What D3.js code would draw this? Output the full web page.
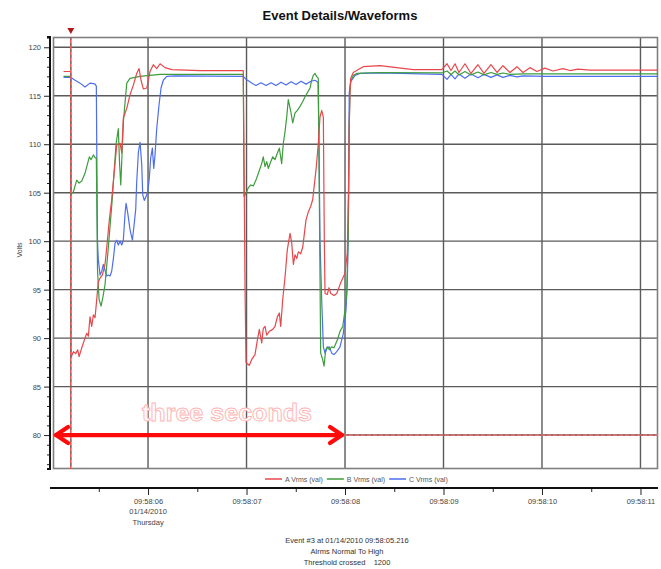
<!DOCTYPE html>
<html>
<head>
<meta charset="utf-8">
<script src="https://cdn.jsdelivr.net/npm/d3@7"></script>
<style>
  body { margin: 0; background: #fff; }
  svg { display: block; font-family: Arial, "Liberation Sans", sans-serif; }
</style>
</head>
<body>
<svg id="chart" width="661" height="569"></svg>
<script>
// RMS voltage per phase, [seconds after 09:58:00, volts]
const phaseA = [
  [5.142, 117.5], [5.214, 117.5], [5.218, 88.0], [5.242, 88.6], [5.266, 88.4], [5.286, 88.8],
  [5.300, 88.1], [5.327, 89.0], [5.360, 90.0], [5.378, 90.5], [5.394, 90.2], [5.411, 92.2],
  [5.428, 91.2], [5.445, 92.4], [5.462, 92.1], [5.479, 94.0], [5.495, 95.8], [5.513, 96.2],
  [5.536, 96.5], [5.563, 97.6], [5.581, 99.4], [5.607, 102.2], [5.631, 104.3], [5.682, 109.9],
  [5.716, 110.1], [5.733, 109.1], [5.749, 112.7], [5.784, 113.7], [5.817, 115.1], [5.851, 116.1],
  [5.885, 117.3], [5.909, 117.8], [5.929, 116.6], [5.952, 115.7], [5.987, 115.8], [6.020, 117.5],
  [6.054, 118.2], [6.088, 117.8], [6.122, 118.3], [6.173, 117.9], [6.241, 117.7], [6.528, 117.6],
  [6.967, 117.6], [6.985, 95.0], [6.995, 87.5], [7.002, 87.4], [7.028, 87.2], [7.053, 87.8],
  [7.086, 88.3], [7.110, 89.8], [7.130, 90.9], [7.154, 89.5], [7.170, 91.0], [7.188, 91.2],
  [7.205, 90.3], [7.231, 90.7], [7.266, 90.9], [7.289, 91.2], [7.313, 92.2], [7.333, 92.6],
  [7.347, 91.2], [7.367, 93.9], [7.391, 96.3], [7.414, 99.1], [7.442, 100.8], [7.459, 99.8],
  [7.476, 97.6], [7.492, 98.6], [7.510, 98.2], [7.526, 98.9], [7.550, 98.7], [7.571, 99.4],
  [7.584, 100.5], [7.604, 102.2], [7.627, 103.0], [7.652, 103.6], [7.672, 104.3], [7.706, 107.4],
  [7.729, 110.1], [7.746, 112.8], [7.763, 113.5], [7.780, 112.8], [7.790, 100.0], [7.797, 94.6],
  [7.820, 94.5], [7.838, 95.2], [7.855, 94.6], [7.888, 94.4], [7.916, 94.6], [7.956, 95.7],
  [8.000, 96.7], [8.023, 98.8], [8.035, 105.0], [8.043, 112.0], [8.051, 115.5], [8.058, 116.8],
  [8.084, 117.4], [8.135, 117.7], [8.186, 118.0], [8.355, 118.1], [8.693, 117.7], [8.982, 117.7],
  [9.036, 118.3], [9.076, 117.6], [9.117, 118.3], [9.157, 117.4], [9.218, 118.3], [9.279, 117.3],
  [9.350, 118.2], [9.411, 117.3], [9.482, 118.2], [9.543, 117.4], [9.604, 118.1], [9.675, 117.4],
  [9.746, 118.0], [9.807, 117.4], [9.878, 117.9], [9.949, 117.5], [10.030, 117.85], [10.112, 117.55],
  [10.213, 117.8], [10.284, 117.6], [10.365, 117.75], [10.487, 117.65], [11.178, 117.65]
];

const phaseB = [
  [5.142, 117.0], [5.214, 117.0], [5.218, 104.8], [5.242, 105.1], [5.276, 106.3], [5.300, 106.0],
  [5.327, 106.2], [5.360, 107.0], [5.394, 108.3], [5.404, 108.7], [5.421, 108.4], [5.445, 108.9],
  [5.462, 108.6], [5.475, 108.6], [5.487, 97.0], [5.503, 94.0], [5.523, 93.3], [5.543, 94.3],
  [5.563, 95.5], [5.594, 99.0], [5.634, 104.0], [5.675, 110.0], [5.698, 111.6], [5.711, 108.0],
  [5.723, 105.8], [5.736, 109.0], [5.751, 112.5], [5.784, 116.3], [5.817, 116.8], [5.919, 117.0],
  [6.122, 117.2], [6.967, 117.2], [6.975, 104.6], [6.995, 104.95], [7.018, 105.5], [7.043, 105.8],
  [7.069, 105.7], [7.096, 106.3], [7.120, 107.0], [7.137, 107.5], [7.154, 108.0], [7.170, 108.7],
  [7.188, 107.7], [7.205, 108.2], [7.221, 107.5], [7.246, 108.2], [7.266, 108.7], [7.289, 108.4],
  [7.313, 109.1], [7.333, 109.6], [7.357, 108.0], [7.374, 110.1], [7.391, 111.3], [7.408, 112.8],
  [7.424, 114.6], [7.449, 113.4], [7.469, 112.2], [7.492, 113.2], [7.516, 113.5], [7.543, 113.9],
  [7.571, 114.4], [7.594, 114.9], [7.617, 115.3], [7.645, 115.8], [7.662, 116.6], [7.678, 117.1],
  [7.695, 117.3], [7.713, 116.97], [7.729, 116.8], [7.743, 100.0], [7.753, 88.45], [7.773, 87.8],
  [7.787, 87.1], [7.804, 88.8], [7.820, 89.1], [7.841, 88.8], [7.865, 89.1], [7.888, 89.0],
  [7.922, 89.8], [7.949, 90.7], [7.977, 91.2], [8.000, 92.9], [8.017, 94.6], [8.033, 100.8],
  [8.043, 112.0], [8.051, 115.5], [8.058, 116.5], [8.084, 117.1], [8.119, 117.3], [8.355, 117.4],
  [8.982, 117.35], [9.036, 117.55], [9.076, 117.2], [9.117, 117.55], [9.157, 117.15], [9.218, 117.5],
  [9.279, 117.15], [9.350, 117.45], [9.411, 117.15], [9.482, 117.4], [9.543, 117.2], [9.604, 117.35],
  [9.675, 117.2], [9.807, 117.25], [11.178, 117.25]
];

const phaseC = [
  [5.142, 116.9], [5.214, 116.9], [5.259, 116.6], [5.310, 116.3], [5.360, 115.9], [5.411, 116.3],
  [5.445, 116.25], [5.462, 116.2], [5.475, 116.0], [5.479, 110.0], [5.487, 100.0], [5.495, 98.1],
  [5.513, 96.5], [5.530, 96.9], [5.546, 97.6], [5.563, 97.0], [5.581, 96.4], [5.597, 96.5],
  [5.614, 96.4], [5.631, 96.9], [5.648, 98.2], [5.665, 99.8], [5.682, 100.1], [5.698, 99.6],
  [5.716, 100.0], [5.733, 99.6], [5.749, 100.1], [5.767, 102.9], [5.777, 103.9], [5.794, 102.9],
  [5.817, 101.2], [5.841, 100.1], [5.861, 101.9], [5.875, 103.3], [5.885, 106.1], [5.902, 109.2],
  [5.919, 110.2], [5.936, 107.9], [5.946, 104.8], [5.962, 104.2], [5.980, 104.6], [5.997, 105.1],
  [6.013, 106.5], [6.027, 108.6], [6.044, 109.6], [6.058, 107.5], [6.071, 108.9], [6.088, 111.6],
  [6.112, 114.1], [6.132, 115.8], [6.155, 116.6], [6.190, 117.0], [6.274, 117.05], [6.967, 117.0],
  [6.995, 116.7], [7.026, 116.5], [7.056, 116.3], [7.096, 116.05], [7.147, 116.35], [7.198, 116.05],
  [7.249, 116.35], [7.299, 116.05], [7.350, 116.4], [7.401, 116.1], [7.452, 116.45], [7.503, 116.15],
  [7.553, 116.5], [7.604, 116.2], [7.655, 116.5], [7.695, 116.6], [7.726, 116.4], [7.736, 110.0],
  [7.746, 100.1], [7.763, 94.0], [7.780, 89.1], [7.797, 88.45], [7.820, 89.0], [7.841, 89.1],
  [7.865, 88.45], [7.888, 88.3], [7.916, 88.6], [7.949, 89.1], [7.983, 90.5], [8.010, 92.9],
  [8.023, 95.7], [8.033, 100.8], [8.043, 115.3], [8.058, 116.45], [8.102, 117.1], [8.152, 117.3],
  [8.355, 117.35], [8.982, 117.2], [9.036, 116.7], [9.076, 117.2], [9.117, 116.75], [9.157, 117.25],
  [9.218, 116.8], [9.279, 117.25], [9.350, 116.85], [9.411, 117.2], [9.482, 116.9], [9.543, 117.15],
  [9.604, 116.9], [9.675, 117.1], [9.746, 116.95], [9.807, 117.05], [10.030, 117.0], [11.178, 117.0]
];

const seriesNames = ["A Vrms (val)", "B Vrms (val)", "C Vrms (val)"];
const seriesColors = ["#e8474c", "#3d9d3d", "#4e6ef2"];
const voltTicks = [80, 85, 90, 95, 100, 105, 110, 115, 120];
const secondTicks = [6, 7, 8, 9, 10, 11];
const halfSecondTicks = [5.5, 6.5, 7.5, 8.5, 9.5, 10.5];
const dateLines = ["01/14/2010", "Thursday"];
const footerLines = ["Event #3 at 01/14/2010 09:58:05.216", "Alrms Normal To High", "Threshold crossed    1200"];
const eventSecond = 5.216;
const thresholdVolts = 80;
const spanSeconds = [5.035, 8.0];
const spanLabel = "three seconds";
const chartTitle = "Event Details/Waveforms";
const yTitle = "Volts";

const svg = d3.select("#chart");
const base = new Date(2010, 0, 14, 9, 58, 0);
const toDate = s => new Date(base.getTime() + s * 1000);

const plot = { left: 53, right: 658, top: 37, bottom: 469 };
const x = d3.scaleTime().domain([toDate(5.0355), toDate(11.178)]).range([plot.left, plot.right]);
const y = d3.scaleLinear().domain([76.5, 121.06]).range([plot.bottom, plot.top]);

// title
svg.append("text").attr("x", 340).attr("y", 20).attr("text-anchor", "middle")
  .attr("font-size", 13).attr("font-weight", "bold").attr("fill", "#111").text(chartTitle);

// event marker triangle
const ex = x(toDate(eventSecond));
svg.append("path").attr("d", `M${ex - 3.5},28 L${ex + 3.5},28 L${ex},34 Z`).attr("fill", "#b01818");

// grid
const grid = svg.append("g");
grid.selectAll("line.h").data(voltTicks).join("line").attr("class", "h")
  .attr("x1", plot.left).attr("x2", plot.right)
  .attr("y1", d => y(d)).attr("y2", d => y(d))
  .attr("stroke", "#5a5a5a").attr("stroke-width", 1.4);
grid.selectAll("line.v").data(secondTicks).join("line").attr("class", "v")
  .attr("x1", d => x(toDate(d))).attr("x2", d => x(toDate(d)))
  .attr("y1", plot.top).attr("y2", plot.bottom)
  .attr("stroke", "#5a5a5a").attr("stroke-width", 1.4);

// frame
svg.append("rect").attr("x", plot.left + 0.5).attr("y", plot.top + 0.5)
  .attr("width", plot.right - plot.left - 1).attr("height", plot.bottom - plot.top - 1)
  .attr("fill", "none").attr("stroke", "#808080").attr("stroke-width", 1.6);

// threshold line
const ty = y(thresholdVolts);
svg.append("line").attr("x1", plot.left).attr("x2", plot.right).attr("y1", ty).attr("y2", ty)
  .attr("stroke", "#f07070").attr("stroke-width", 1.2);
svg.append("line").attr("x1", plot.left).attr("x2", plot.right).attr("y1", ty).attr("y2", ty)
  .attr("stroke", "#a05050").attr("stroke-width", 1).attr("stroke-dasharray", "2,4");

// phase lines
const line = d3.line().x(d => x(toDate(d[0]))).y(d => y(d[1]));
const phases = [phaseA, phaseB, phaseC];
const lines = svg.append("g").attr("fill", "none").attr("stroke-width", 1.2).attr("stroke-linejoin", "round");
[2, 1, 0].forEach(i => {
  lines.append("path").datum(phases[i]).attr("d", line).attr("stroke", seriesColors[i]);
});

// event line
svg.append("line").attr("x1", ex).attr("x2", ex).attr("y1", plot.top).attr("y2", plot.bottom)
  .attr("stroke", "#ee5555").attr("stroke-width", 1.6);
svg.append("line").attr("x1", ex).attr("x2", ex).attr("y1", plot.top).attr("y2", plot.bottom)
  .attr("stroke", "#6a6a6a").attr("stroke-width", 1).attr("stroke-dasharray", "3,3");

// left axis
const axisX = 50;
const minorVolts = d3.range(77, 122, 1).filter(v => v % 5 !== 0);
svg.append("g").attr("transform", `translate(${axisX},0)`)
  .call(d3.axisLeft(y).tickValues(minorVolts).tickSize(3).tickFormat(""))
  .call(g => g.select(".domain").remove())
  .call(g => g.selectAll("line").attr("stroke", "#222"));
svg.append("g").attr("transform", `translate(${axisX},0)`)
  .call(d3.axisLeft(y).tickValues(voltTicks).tickSize(6).tickPadding(3).tickFormat(d3.format("d")))
  .call(g => g.select(".domain").remove())
  .call(g => g.selectAll("line").attr("stroke", "#222"))
  .call(g => g.selectAll("text").attr("font-size", 7.5).attr("fill", "#444").attr("font-family", "Arial, 'Liberation Sans', sans-serif"));
svg.append("path").attr("d", `M${axisX - 3},${plot.top} H${axisX} V${plot.bottom} H${axisX - 3}`)
  .attr("fill", "none").attr("stroke", "#111").attr("stroke-width", 2);
svg.append("text").attr("transform", `translate(22,250) rotate(-90)`).attr("text-anchor", "middle")
  .attr("font-size", 7).attr("fill", "#444").text(yTitle);

// span arrow with label
const ax1 = x(toDate(spanSeconds[0])) + 1, ax2 = x(toDate(spanSeconds[1])) - 1;
const arrow = svg.append("g").attr("stroke", "#ff0a0a").attr("stroke-width", 4.2)
  .attr("fill", "none").attr("stroke-linecap", "round").attr("stroke-linejoin", "round");
arrow.append("line").attr("x1", ax1 + 2).attr("x2", ax2 - 2).attr("y1", ty).attr("y2", ty);
arrow.append("path").attr("d", `M${ax1 + 14},${ty - 8} L${ax1 + 2},${ty} L${ax1 + 14},${ty + 8}`);
arrow.append("path").attr("d", `M${ax2 - 14},${ty - 8} L${ax2 - 2},${ty} L${ax2 - 14},${ty + 8}`);
svg.append("text").attr("x", 227).attr("y", 421).attr("text-anchor", "middle")
  .attr("font-size", 24).attr("font-weight", "bold").attr("fill", "#fff")
  .attr("textLength", 170).attr("lengthAdjust", "spacingAndGlyphs")
  .attr("stroke", "#ffb4b4").attr("stroke-width", 0.9).text(spanLabel);

// legend
const legend = svg.append("g").attr("transform", "translate(265,479)");
let lx = 0;
seriesNames.forEach((name, i) => {
  legend.append("line").attr("x1", lx).attr("x2", lx + 17).attr("y1", 0).attr("y2", 0)
    .attr("stroke", seriesColors[i]).attr("stroke-width", 1.5);
  const t = legend.append("text").attr("x", lx + 20).attr("y", 2.5).attr("font-size", 7)
    .attr("fill", "#555").text(name);
  lx += 20 + t.node().getComputedTextLength() + 4;
});

// time axis
const axisY = 488;
svg.append("g").attr("transform", `translate(0,${axisY})`)
  .call(d3.axisBottom(x).tickValues(halfSecondTicks.map(toDate)).tickSize(4).tickFormat(""))
  .call(g => g.select(".domain").remove())
  .call(g => g.selectAll("line").attr("stroke", "#222"));
const fmt = d3.timeFormat("%H:%M:%S");
svg.append("g").attr("transform", `translate(0,${axisY})`)
  .call(d3.axisBottom(x).tickValues(secondTicks.map(toDate)).tickSize(7).tickPadding(4).tickFormat(fmt))
  .call(g => g.select(".domain").remove())
  .call(g => g.selectAll("line").attr("stroke", "#222"))
  .call(g => g.selectAll("text").attr("font-size", 7.5).attr("fill", "#444").attr("font-family", "Arial, 'Liberation Sans', sans-serif"));
svg.append("line").attr("x1", plot.left - 3).attr("x2", plot.right).attr("y1", axisY).attr("y2", axisY)
  .attr("stroke", "#111").attr("stroke-width", 2.2);
const firstX = x(toDate(secondTicks[0]));
dateLines.forEach((s, i) => {
  svg.append("text").attr("x", firstX).attr("y", 514 + i * 10.5).attr("text-anchor", "middle")
    .attr("font-size", 7.5).attr("fill", "#444").text(s);
});

// event description
footerLines.forEach((s, i) => {
  svg.append("text").attr("x", 347).attr("y", 543 + i * 11).attr("text-anchor", "middle")
    .attr("font-size", 7.5).attr("fill", "#333").attr("xml:space", "preserve").style("white-space", "pre").text(s);
});
</script>
</body>
</html>
